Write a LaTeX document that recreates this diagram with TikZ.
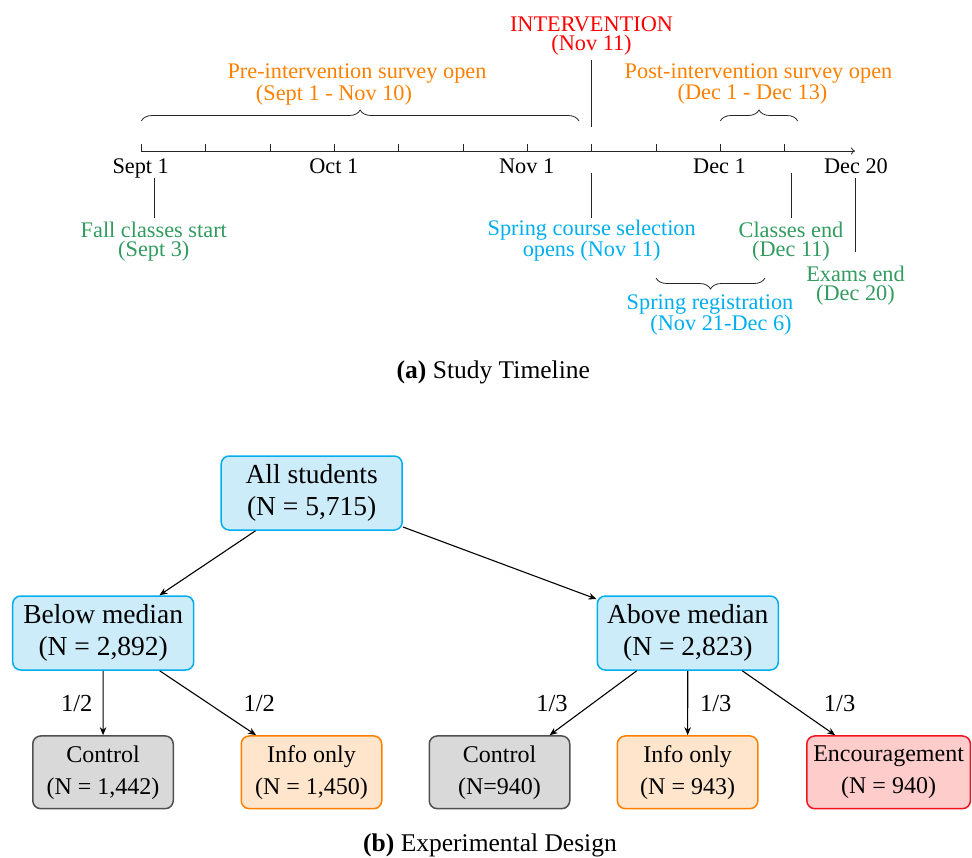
\documentclass[tikz,border=0pt]{standalone}
\usepackage{fontspec}
\setmainfont{Liberation Serif}
\usetikzlibrary{decorations.pathreplacing,arrows.meta}
\definecolor{tlorange}{RGB}{255,128,0}
\definecolor{tlgreen}{RGB}{50,155,95}
\definecolor{tlcyan}{RGB}{0,174,239}
\definecolor{tlred}{RGB}{255,0,0}
\definecolor{bfill}{RGB}{204,236,250}
\definecolor{bdraw}{RGB}{0,174,239}
\definecolor{gfill}{RGB}{217,217,217}
\definecolor{gdraw}{RGB}{80,80,80}
\definecolor{ofill}{RGB}{255,229,204}
\definecolor{odraw}{RGB}{255,128,0}
\definecolor{rfill}{RGB}{255,204,204}
\definecolor{rdraw}{RGB}{240,20,30}
\tikzset{
  tl/.style={font=\fontsize{22.3}{19.2}\selectfont, align=center, inner sep=0pt, anchor=base},
  tline/.style={line width=0.8pt, black!85},
  tbrace/.style={line width=0.8pt, black!85, decorate, decoration={brace, amplitude=11pt}},
  box/.style={draw, rounded corners=8pt, line width=1.5pt, align=center, inner sep=0pt,
    minimum height=74pt, minimum width=181pt, font=\fontsize{27.5}{32}\selectfont},
  leaf/.style={box, minimum height=72.7pt, minimum width=140.5pt, inner xsep=6.5pt,
    font=\fontsize{24}{32}\selectfont},
  bluebox/.style={fill=bfill, draw=bdraw},
  graybox/.style={fill=gfill, draw=gdraw},
  orangebox/.style={fill=ofill, draw=odraw},
  redbox/.style={fill=rfill, draw=rdraw},
  fraclab/.style={font=\fontsize{24.5}{28}\selectfont, inner sep=0pt, anchor=base},
  arr/.style={line width=1.1pt, -{Stealth[length=8pt,width=6.5pt,inset=2.5pt]}},
  capt/.style={font=\fontsize{25.5}{30}\selectfont, inner sep=0pt, anchor=base}
}
\begin{document}
\begin{tikzpicture}[x=1pt,y=-1pt]
\useasboundingbox (0,0) rectangle (972,857);

% ---------- (a) timeline ----------
\draw[tline, -{To[length=4pt,width=7pt]}] (141.3,151) -- (855,151);
\foreach \x in {141.3,205.7,270.1,334.5,398.8,463.1,527.4,591.7,656.0,720.3,784.7}
  \draw[tline] (\x,151) -- (\x,144);

\node[tl] (lsep) at (140.7,173.3) {Sept 1};
\node[tl] (loct) at (333.8,173.3) {Oct 1};
\node[tl] (lnov) at (526.7,173.3) {Nov 1};
\node[tl] (ldec) at (719.5,173.3) {Dec 1};
\node[tl] (ldec20) at (856,173.3) {Dec 20};

% intervention (base anchor = last line baseline)
\node[tl, text=tlred] (intv) at (591.5,50.5) {INTERVENTION\\(Nov 11)};
\draw[tline] (591.7,60) -- (591.7,127);

% survey braces
\draw[tbrace] (141.3,121) -- (579,121);
\node[tl, text=tlorange] (pre) at (357,100) {Pre-intervention survey open\\(Sept 1 - Nov 10)\hspace*{46pt}};
\draw[tbrace] (720.3,121) -- (797.7,121);
\node[tl, text=tlorange] (post) at (758.5,99.3) {Post-intervention survey open\\(Dec 1 - Dec 13)\hspace*{12pt}};

% below-axis events
\draw[tline] (154.3,178) -- (154.3,218);
\node[tl, text=tlgreen] (fall) at (153.8,256.7) {Fall classes start\\(Sept 3)};

\draw[tline] (591.7,173) -- (591.7,218);
\node[tl, text=tlcyan] (spring) at (591.7,256.7) {Spring course selection\\opens (Nov 11)};

\draw[tline] (791,173) -- (791,218);
\node[tl, text=tlgreen] (classes) at (791,256.7) {Classes end\\(Dec 11)};

\draw[tline] (855.7,178) -- (855.7,252);
\node[tl, text=tlgreen] (exams) at (855.5,300.5) {Exams end\\(Dec 20)};

\draw[tbrace, decoration={brace, mirror, amplitude=11pt}] (656,278) -- (765,278);
\node[tl, text=tlcyan] (reg) at (710,330.5) {Spring registration\\\hspace*{22pt}(Nov 21-Dec 6)};

\node[capt] (capa) at (493.3,378.3) {\textbf{(a)} Study Timeline};

% ---------- (b) experimental design ----------
\node[box, bluebox] (all) at (311.7,493) {All students\\(N = 5,715)};
\node[box, bluebox] (below) at (103.2,633) {Below median\\(N = 2,892)};
\node[box, bluebox] (above) at (687.8,633) {Above median\\(N = 2,823)};

\node[leaf, graybox] (ctrlL) at (103,772.3) {Control\\(N = 1,442)};
\node[leaf, orangebox] (infoL) at (311.5,772.3) {Info only\\(N = 1,450)};
\node[leaf, graybox] (ctrlR) at (499.5,772.3) {Control\\(N=940)};
\node[leaf, orangebox] (infoR) at (687.6,772.3) {Info only\\(N = 943)};
\node[leaf, redbox] (enc) at (888.6,772.3) {Encouragement\\(N = 940)};

\draw[arr] (all) -- (below);
\draw[arr] (all) -- (above);
\draw[arr] (below) -- (ctrlL);
\draw[arr] (below) -- (infoL);
\draw[arr] (above) -- (ctrlR);
\draw[arr] (above) -- (infoR);
\draw[arr] (above) -- (enc);

\node[fraclab] (h1) at (76.7,711.7) {1/2};
\node[fraclab] (h2) at (259.3,711.7) {1/2};
\node[fraclab] (t1) at (552,711.7) {1/3};
\node[fraclab] (t2) at (715.7,711.7) {1/3};
\node[fraclab] (t3) at (839.6,711.7) {1/3};

\node[capt] (capb) at (490,851) {\textbf{(b)} Experimental Design};
\end{tikzpicture}
\end{document}
